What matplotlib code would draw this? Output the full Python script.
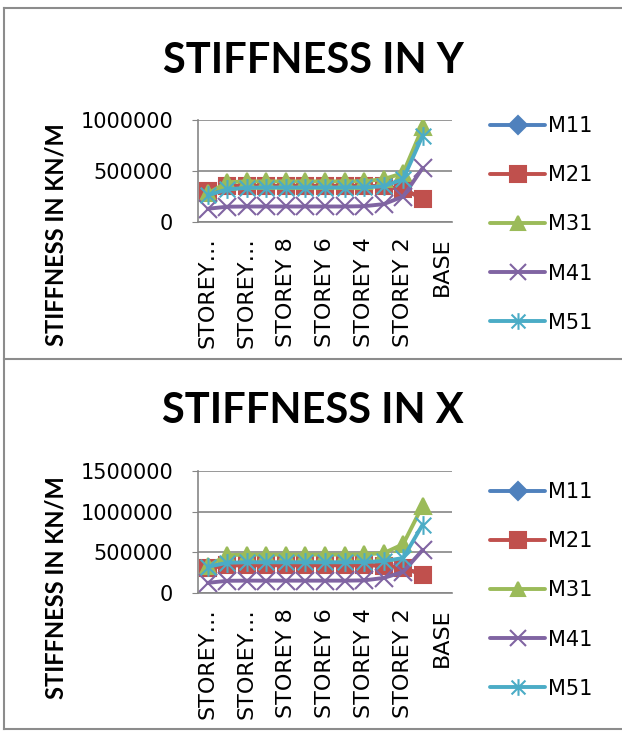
import matplotlib.pyplot as plt
from matplotlib.lines import Line2D
from matplotlib.path import Path
from matplotlib.ticker import FuncFormatter

plt.rcParams['font.family'] = ['DejaVu Sans']

storeys = ['STOREY 12', 'STOREY 11', 'STOREY 10', 'STOREY 9', 'STOREY 8',
           'STOREY 7', 'STOREY 6', 'STOREY 5', 'STOREY 4', 'STOREY 3',
           'STOREY 2', 'STOREY 1', 'BASE']
models = ['M11', 'M21', 'M31', 'M41', 'M51']

# storey stiffness, STOREY 12 down to STOREY 1 (no value at BASE)
stiff_y_m11 = [300000, 352000, 354000, 354000, 354000, 354000, 354000, 354000, 354000, 350000, 322000, 230000]
stiff_y_m21 = [300000, 352000, 354000, 354000, 354000, 354000, 354000, 354000, 354000, 350000, 322000, 230000]
stiff_y_m31 = [280000, 390000, 398000, 398000, 398000, 398000, 398000, 398000, 400000, 420000, 480000, 930000]
stiff_y_m41 = [130000, 150000, 152000, 152000, 152000, 152000, 152000, 152000, 155000, 175000, 250000, 530000]
stiff_y_m51 = [262000, 320000, 335000, 338000, 338000, 338000, 338000, 338000, 340000, 350000, 420000, 848000]

stiff_x_m11 = [305000, 340000, 342000, 342000, 342000, 342000, 342000, 342000, 342000, 338000, 310000, 224000]
stiff_x_m21 = [305000, 340000, 342000, 342000, 342000, 342000, 342000, 342000, 342000, 338000, 310000, 224000]
stiff_x_m31 = [330000, 465000, 472000, 472000, 472000, 472000, 472000, 472000, 475000, 490000, 600000, 1075000]
stiff_x_m41 = [125000, 150000, 152000, 152000, 152000, 152000, 152000, 152000, 155000, 185000, 260000, 530000]
stiff_x_m51 = [322000, 372000, 378000, 378000, 378000, 378000, 378000, 378000, 380000, 392000, 430000, 842000]

colors = ['#4F81BD', '#C0504D', '#9BBB59', '#8064A2', '#4BACC6']

# excel style asterisk: an x with a vertical stroke
asterisk = Path([(-0.5, -0.5), (0.5, 0.5), (-0.5, 0.5), (0.5, -0.5), (0, -0.6), (0, 0.6)],
                [Path.MOVETO, Path.LINETO, Path.MOVETO, Path.LINETO, Path.MOVETO, Path.LINETO])
markers = [('D', 6), ('s', 11.5), ('^', 11.5), ('x', 13.5), (asterisk, 13.5)]
legend_ms = [9.5, 11.5, 10.5, 11, 12]

W, H = 622, 731
fig = plt.figure(figsize=(W / 100, H / 100), dpi=100)


def px_axes(x0, y0, x1, y1):
    return fig.add_axes([x0 / W, 1 - y1 / H, (x1 - x0) / W, (y1 - y0) / H])


def short(lbl):
    return lbl if len(lbl) <= 8 else lbl[:6] + '…'


def draw_chart(ax, data, title, ymax, ystep, title_y, label_y, legend_y):
    for vals, name, c, (m, ms) in zip(data, models, colors, markers):
        ax.plot(range(len(vals)), vals, color=c, lw=2.8, marker=m, ms=ms,
                mec=c, mfc=c, mew=1.5, label=name, solid_capstyle='round')
    ax.set_xlim(-0.5, len(storeys) - 0.5)
    ax.set_ylim(0, ymax)
    ax.set_yticks(range(0, ymax + 1, ystep))
    ax.yaxis.set_major_formatter(FuncFormatter(lambda v, p: f'{int(v)}'))
    ax.set_xticks(range(len(storeys)))
    ax.set_xticklabels([short(s) if i % 2 == 0 else '' for i, s in enumerate(storeys)],
                       rotation=90, fontsize=16)
    ax.tick_params(axis='x', length=0, pad=11)
    ax.tick_params(axis='y', labelsize=15, length=4, color='#868686', pad=14)
    ax.grid(axis='y', color='#868686', lw=1.2)
    ax.set_axisbelow(True)
    for side in ['top', 'right']:
        ax.spines[side].set_visible(False)
    for side in ['left', 'bottom']:
        ax.spines[side].set_color('#868686')
        ax.spines[side].set_linewidth(1.2)
    fig.text(313 / W, 1 - title_y / H, title, ha='center', va='center',
             fontsize=30, fontweight='bold', family='Lato')
    fig.text(56 / W, 1 - label_y / H, 'STIFFNESS IN KN/M', rotation=90,
             ha='center', va='center', fontsize=17, fontweight='bold', family='Lato')
    handles, labels = ax.get_legend_handles_labels()
    leg = fig.legend(handles, labels, loc='upper left', bbox_to_anchor=(490 / W, 1 - legend_y / H),
                     frameon=False, fontsize=15, handlelength=2.65, handletextpad=0.15,
                     labelspacing=1.4, borderpad=0, borderaxespad=0, numpoints=1)
    for h, ms in zip(leg.legend_handles, legend_ms):
        h.set_markersize(ms)


ax_y = px_axes(198, 120, 452, 222)
draw_chart(ax_y, [stiff_y_m11, stiff_y_m21, stiff_y_m31, stiff_y_m41, stiff_y_m51],
           'STIFFNESS IN Y', 1000000, 500000, 61, 235, 116)

ax_x = px_axes(198, 471, 452, 593)
draw_chart(ax_x, [stiff_x_m11, stiff_x_m21, stiff_x_m31, stiff_x_m41, stiff_x_m51],
           'STIFFNESS IN X', 1500000, 500000, 411, 588, 482)

# chart area borders
border = dict(color='#8c8c8c', lw=1.5, transform=fig.transFigure)
for yy in [8, 359, 729]:
    fig.add_artist(Line2D([4 / W, 1], [1 - yy / H] * 2, **border))
fig.add_artist(Line2D([4 / W, 4 / W], [1 - 8 / H, 1 - 729 / H], **border))

fig.savefig('out.png', dpi=100)
